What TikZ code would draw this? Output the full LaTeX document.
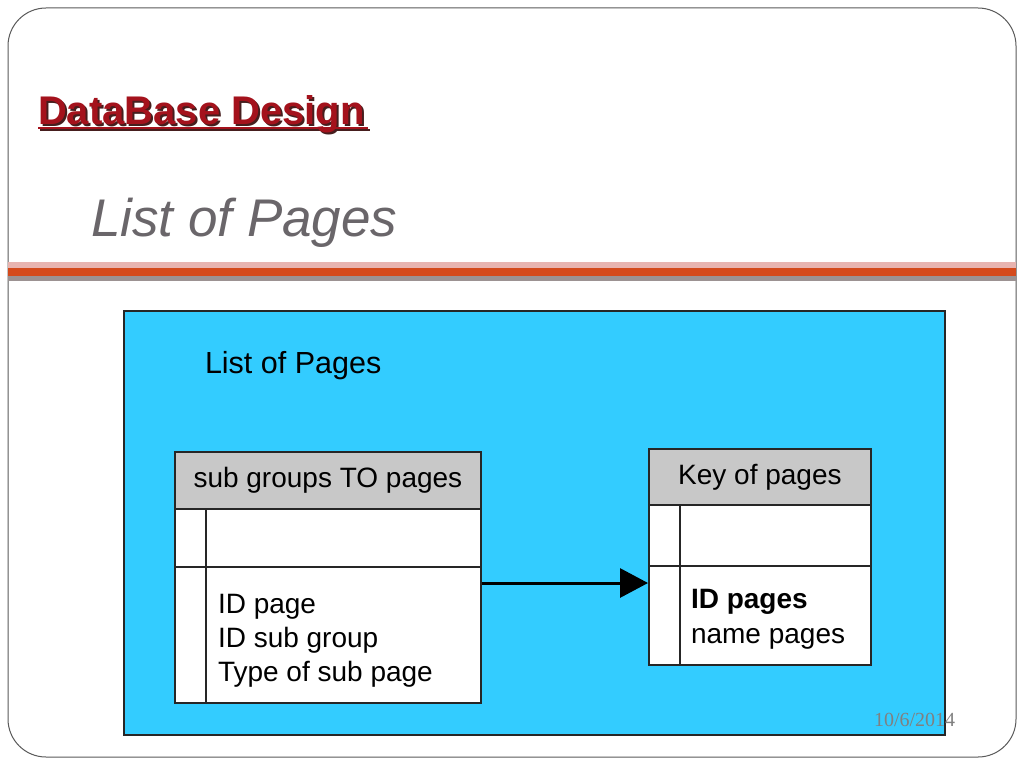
\documentclass[tikz,border=0pt]{standalone}
\usepackage{fontspec}
\setmainfont{Liberation Sans}
\newfontfamily\datefont{Liberation Serif}
\usetikzlibrary{arrows.meta}
\definecolor{skyb}{RGB}{51,204,255}
\definecolor{hdrgray}{RGB}{200,200,200}
\definecolor{titlered}{RGB}{164,18,28}
\definecolor{titleshadow}{RGB}{70,30,30}
\definecolor{subgray}{RGB}{106,102,106}
\definecolor{barpink}{RGB}{232,180,176}
\definecolor{barorange}{RGB}{212,74,28}
\definecolor{bargray}{RGB}{156,146,146}
\definecolor{framegray}{RGB}{90,90,90}
\definecolor{dategray}{RGB}{128,128,128}
\begin{document}
\begin{tikzpicture}[x=1pt,y=-1pt,
  txt/.style={inner sep=0pt, outer sep=0pt},
  cell/.style={draw=black!85, line width=1.8pt, fill=white, inner sep=0pt, anchor=north west},
  hdr/.style={cell, fill=hdrgray, font=\fontsize{28}{32}\selectfont},
  field/.style={txt, anchor=base west, font=\fontsize{28}{32}\selectfont},
  arr/.style={line width=3pt, -{Triangle[length=28pt,width=29pt]}}
]
\useasboundingbox (0,0) rectangle (1024,768);
\fill[white] (0,0) rectangle (1024,768);
% slide frame and bars
\draw[framegray, line width=1pt, rounded corners=38pt] (8,8) rectangle (1016,757);
\fill[barpink] (8,262) rectangle (1016,267.5);
\fill[barorange] (8,267.5) rectangle (1016,276);
\fill[bargray] (8,276) rectangle (1016,281);
% title with shadow and underline
\node[txt, anchor=base west, text=titleshadow, font=\fontsize{40}{48}\selectfont\bfseries] (titleS) at (40,126) {DataBase Design};
\draw[titleshadow, line width=2pt] (40,130) -- (370,130);
\node[txt, anchor=base west, text=titlered, font=\fontsize{40}{48}\selectfont\bfseries] (title) at (38,124) {DataBase Design};
\draw[titlered, line width=2pt] (38,128) -- (368,128);
% subtitle
\node[txt, anchor=base west, text=subgray, font=\fontsize{53}{60}\selectfont\itshape] (sub) at (91,236) {List of Pages};
% blue panel
\node[draw=black!85, line width=1.8pt, fill=skyb, minimum width=821pt, minimum height=424pt, inner sep=0pt, anchor=north west] (panel) at (123,310) {};
\node[txt, anchor=base west, font=\fontsize{30.5}{34}\selectfont] (ptitle) at (205,373) {List of Pages};
% left table
\node[hdr, minimum width=306pt, minimum height=57pt] (Lhead) at (174,451) {sub groups TO pages};
\node[cell, minimum width=306pt, minimum height=58pt] (Lrow) at (174,508) {};
\node[cell, minimum width=306pt, minimum height=136pt] (Lbody) at (174,566) {};
\draw[black!85, line width=1.8pt] (206,508) -- (206,702);
\node[field] (Lf1) at (218,613) {ID page};
\node[field] (Lf2) at (218,647) {ID sub group};
\node[field] (Lf3) at (218,681) {Type of sub page};
% right table
\node[hdr, minimum width=222pt, minimum height=56pt] (Rhead) at (648,448) {Key of pages};
\node[cell, minimum width=222pt, minimum height=61pt] (Rrow) at (648,504) {};
\node[cell, minimum width=222pt, minimum height=99pt] (Rbody) at (648,565) {};
\draw[black!85, line width=1.8pt] (680,504) -- (680,664);
\node[field, font=\fontsize{28}{32}\selectfont\bfseries] (Rf1) at (691,608) {ID pages};
\node[field] (Rf2) at (691,643) {name pages};
% relation arrow
\coordinate (ay) at (0,583);
\draw[arr] (Lbody.east |- ay) -- (Rbody.west |- ay);
% date
\node[txt, anchor=base west, text=dategray, font=\datefont\fontsize{20}{24}\selectfont] (date) at (874,726) {10/6/2014};
\end{tikzpicture}
\end{document}
